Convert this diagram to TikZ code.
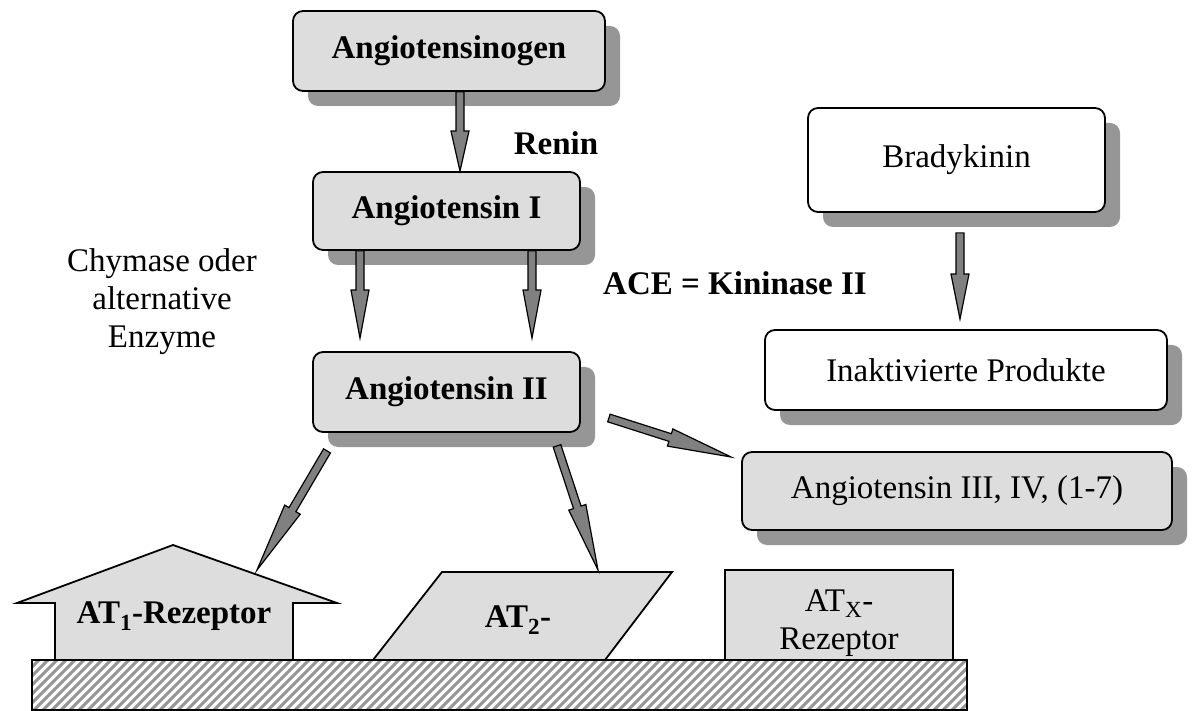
\documentclass[tikz,border=0pt]{standalone}
\usepackage{fontspec}
\setmainfont{Liberation Serif}
\usetikzlibrary{calc}
\usetikzlibrary{shadows}

\definecolor{boxgray}{RGB}{221,221,221}
\definecolor{shadowgray}{RGB}{150,150,150}
\definecolor{arrowgray}{RGB}{128,128,128}
\definecolor{hatchgray}{RGB}{150,150,150}

% broad arrow from tail #2 to tip #3, #1 = head length
\newcommand{\blockarrow}[3][45]{%
  \path ($(#3)!#1pt!(#2)$) coordinate (neck);
  \draw[blockarr] ($(#2)!4pt!90:(#3)$) -- ($(neck)!4pt!90:(#3)$) -- ($(neck)!9pt!90:(#3)$) -- (#3)
    -- ($(neck)!9pt!-90:(#3)$) -- ($(neck)!4pt!-90:(#3)$) -- ($(#2)!4pt!-90:(#3)$) -- cycle;
}

\begin{document}
\begin{tikzpicture}[x = 1pt, y = -1pt,
    proc/.style = {shape = rectangle, rounded corners = 10pt, draw, line width = 1.8pt, fill = boxgray, inner sep = 0pt, drop shadow = {shadow xshift = 15pt, shadow yshift = -15pt, fill = shadowgray, opacity = 1}},
    kinin/.style = {proc, fill = white},
    lbl/.style = {font = \fontsize{33}{38}\selectfont},
    blbl/.style = {font = \fontsize{33}{38}\selectfont\bfseries},
    recep/.style = {draw, line width = 1.8pt, fill = boxgray, line join = miter},
    blockarr/.style = {draw, line width = 1.2pt, fill = arrowgray, line join = miter},
    ]
    \useasboundingbox (0, 0) rectangle (1192, 711);

    \node[proc, blbl, minimum width = 312pt, minimum height = 80pt] (ango) at (449, 51) {Angiotensinogen};
    \node[proc, blbl, minimum width = 267pt, minimum height = 78pt] (ang1) at (446.5, 211) {Angiotensin I};
    \node[proc, blbl, minimum width = 267pt, minimum height = 80pt] (ang2) at (446.5, 392) {Angiotensin II};
    \node[proc, lbl, minimum width = 430pt, minimum height = 78pt] (ang3) at (957, 491) {Angiotensin III, IV, (1-7)};
    \node[kinin, lbl, minimum width = 297pt, minimum height = 104pt] (brady) at (956.5, 160) {Bradykinin};
    \node[kinin, lbl, minimum width = 402pt, minimum height = 80pt] (inakt) at (966, 370) {Inaktivierte Produkte};

    \node[blbl] (renin) at (556, 143) {Renin};
    \node[blbl] (ace) at (735, 283) {ACE = Kininase II};
    \node[lbl, align = center] (chym) at (162, 302) {Chymase oder\\alternative\\Enzyme};

    % receptors on the membrane
    \draw[recep] (55, 660) -- (55, 603) -- (17, 603) -- (173, 545) -- (337, 603) -- (293, 603) -- (293, 660) -- cycle;
    \node[blbl] (at1) at (174, 616) {AT\textsubscript{1}-Rezeptor};
    \coordinate (at1roof) at (257, 570);

    \draw[recep] (373, 660) -- (442, 572) -- (672, 572) -- (605, 660) -- cycle;
    \node[blbl] (at2) at (518, 620) {AT\textsubscript{2}-};
    \coordinate (at2top) at (598, 570);

    \node[recep, line width = 2.6pt, minimum width = 228pt, minimum height = 90pt, inner sep = 0pt] (atx) at (839, 615) {};
    \node[lbl, align = center] (atxtext) at (839, 623) {AT\textsubscript{X}-\\Rezeptor};

    % membrane
    \begin{scope}
        \clip (32, 660) rectangle (967, 710);
        \foreach \i in {-40, -31, ..., 970}
            \draw[hatchgray, line width = 3pt] (\i, 712) -- ++(54, -54);
    \end{scope}
    \draw[line width = 1.8pt] (32, 660) rectangle (967, 710);

    % arrows
    \coordinate (t1) at ($(ango.south) + (11, 0)$);
    \coordinate (h1) at ($(ang1.north) + (13.5, 0)$);
    \coordinate (t2) at ($(ang1.south) + (-86.5, 0)$);
    \coordinate (h2) at ($(ang2.north) + (-86.5, -13)$);
    \coordinate (t3) at ($(ang1.south) + (85.5, 0)$);
    \coordinate (h3) at ($(ang2.north) + (85.5, -13)$);
    \coordinate (t4) at ($(brady.south) + (3.5, 20)$);
    \coordinate (h4) at ($(inakt.north) + (-6, -10)$);
    \coordinate (t5) at ($(ang2.east) + (28, 26)$);
    \coordinate (h5) at ($(ang3.west) + (-10, -34)$);
    \coordinate (t6) at ($(ang2.south) + (-119.5, 18)$);
    \coordinate (t7) at ($(ang2.south) + (110.5, 13)$);

    \blockarrow[40]{t1}{h1}
    \blockarrow[48]{t2}{h2}
    \blockarrow[48]{t3}{h3}
    \blockarrow[45]{t4}{h4}
    \blockarrow[64]{t5}{h5}
    \blockarrow[70]{t6}{at1roof}
    \blockarrow[66]{t7}{at2top}
\end{tikzpicture}
\end{document}
